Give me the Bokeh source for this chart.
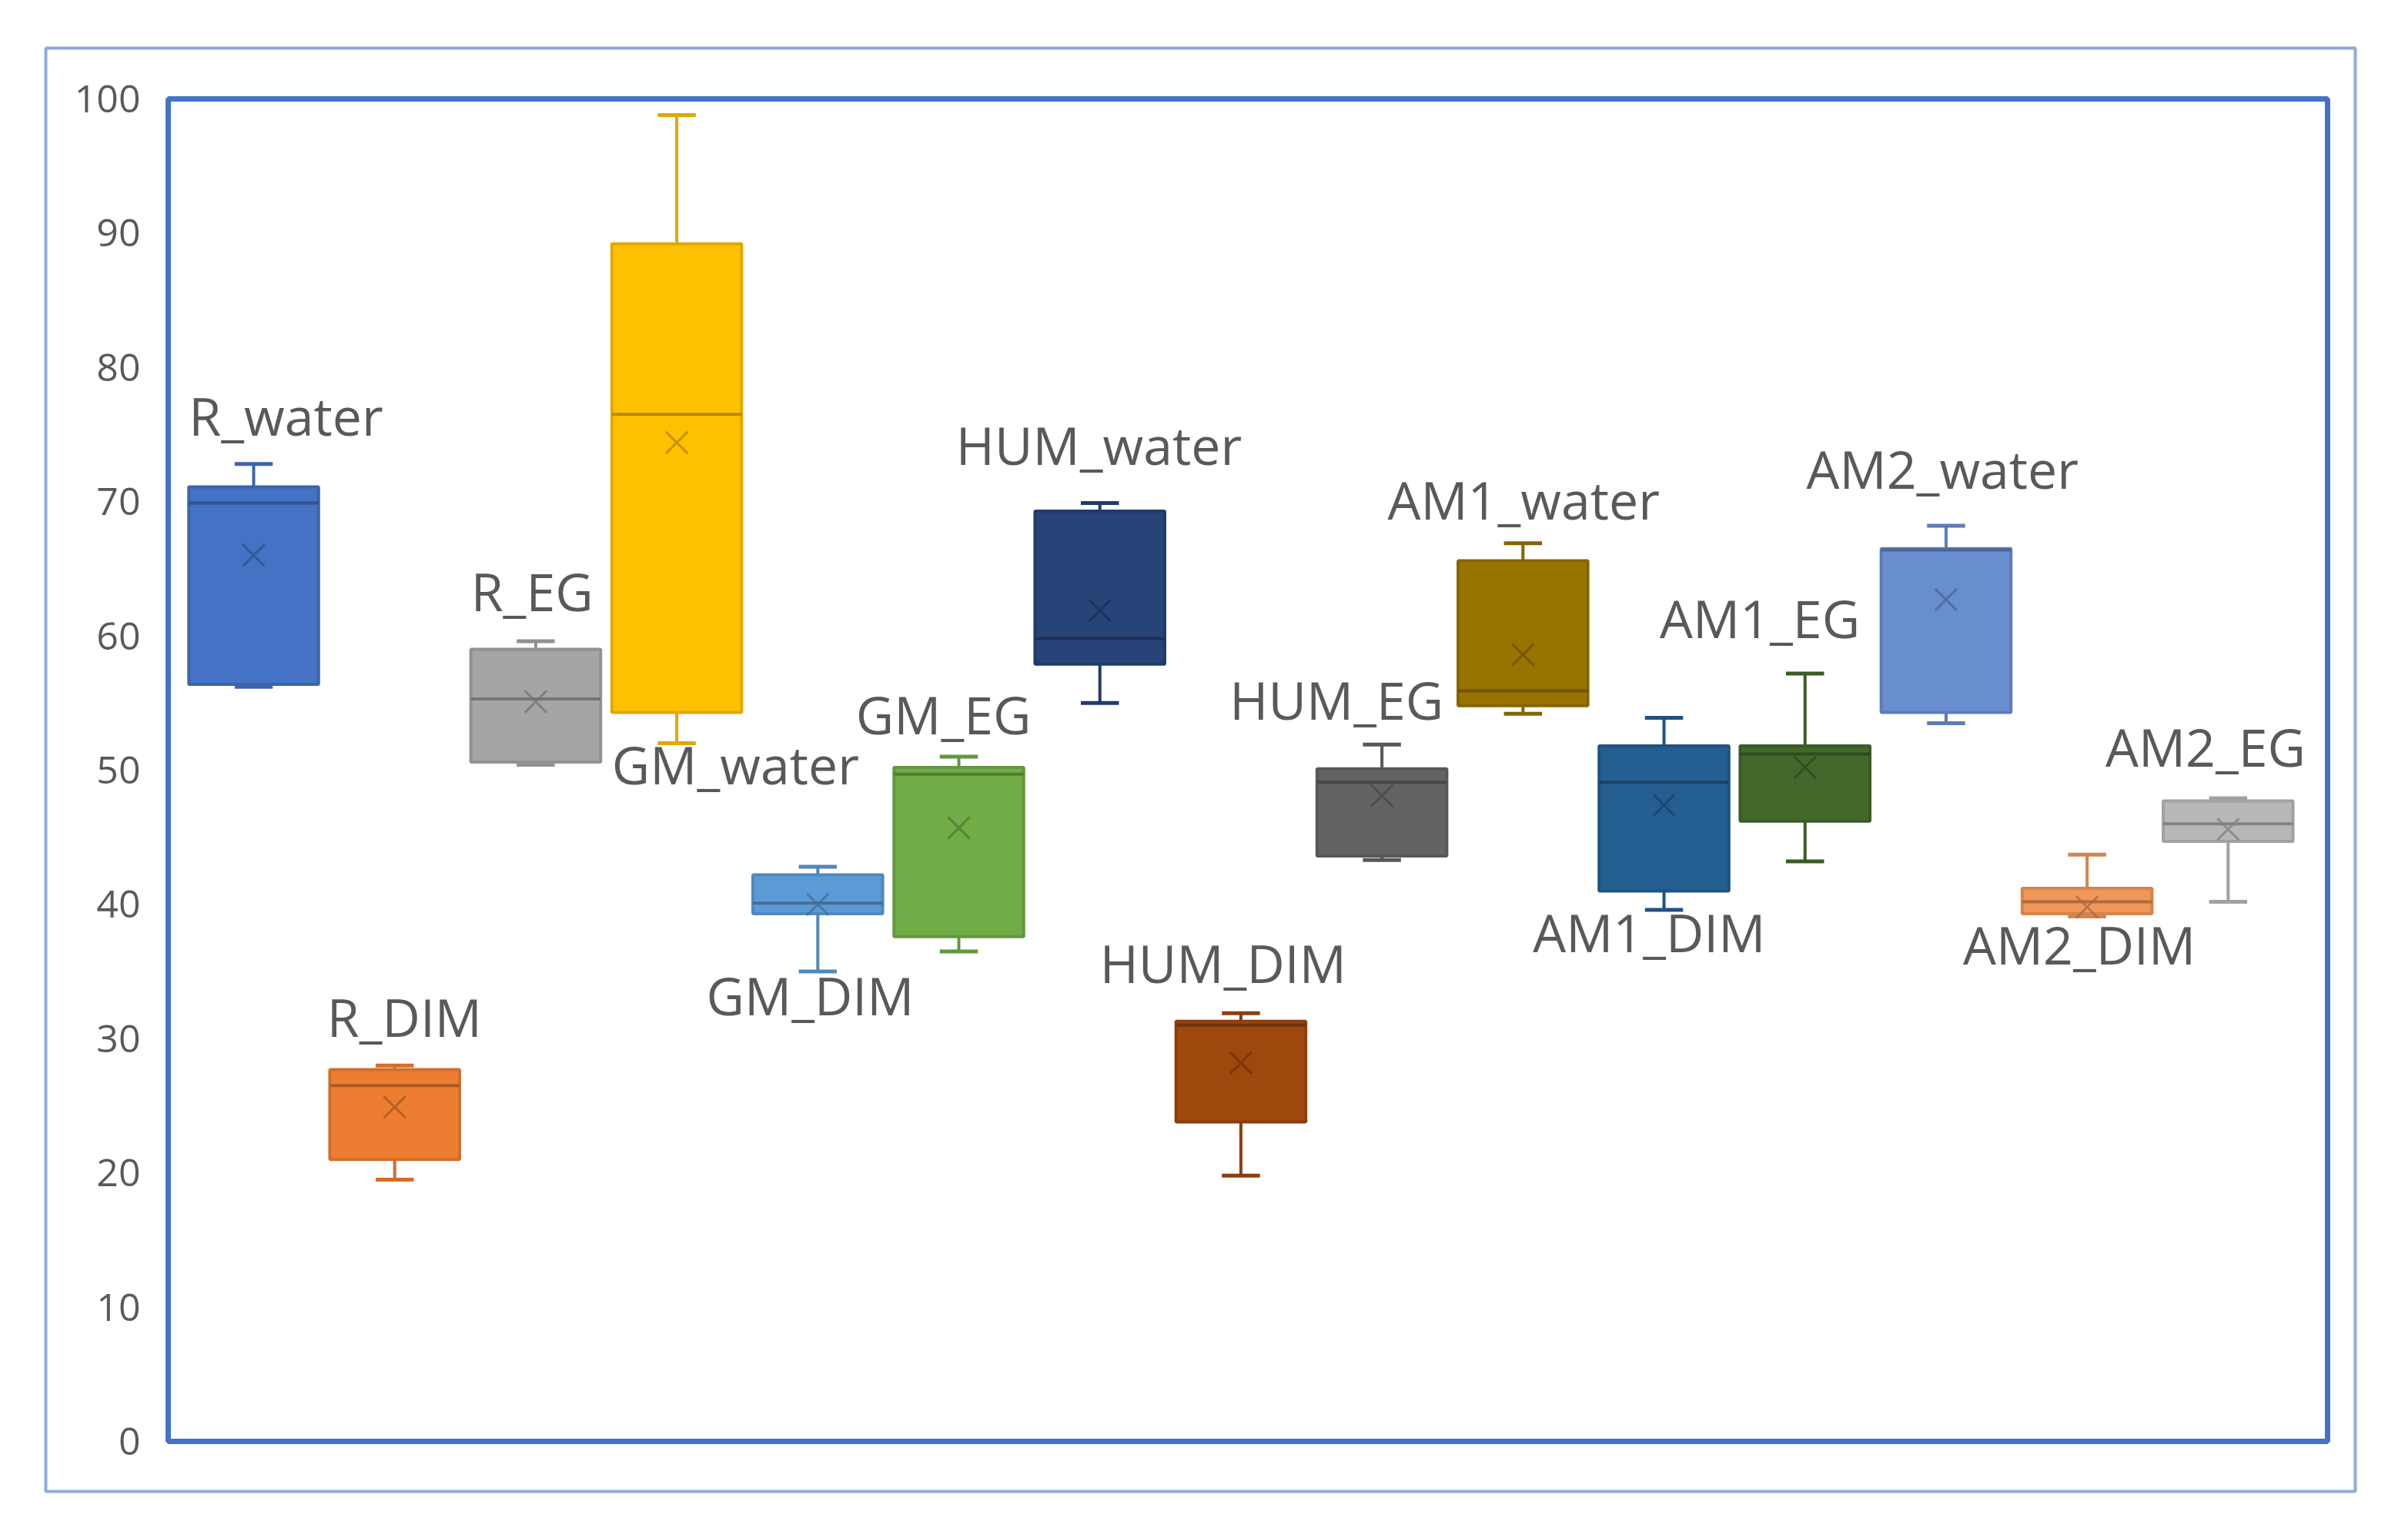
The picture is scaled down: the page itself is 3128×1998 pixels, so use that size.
from bokeh.plotting import figure
from bokeh.models import ColumnDataSource, FixedTicker, BoxAnnotation, Range1d
from bokeh.core.properties import value
from bokeh.embed import file_html
from bokeh.resources import INLINE

# ---------------- data ----------------
names = ["R_water", "R_DIM", "R_EG", "GM_water", "GM_DIM", "GM_EG",
         "HUM_water", "HUM_DIM", "HUM_EG", "AM1_water", "AM1_DIM", "AM1_EG",
         "AM2_water", "AM2_DIM", "AM2_EG"]
whisker_low = [56.2, 19.5, 50.4, 52.0, 35.0, 36.5, 55.0, 19.8, 43.3, 54.2, 39.6, 43.2, 53.5, 39.1, 40.2]
q1 = [56.4, 21.0, 50.6, 54.3, 39.3, 37.6, 57.9, 23.8, 43.6, 54.8, 41.0, 46.2, 54.3, 39.3, 44.7]
median = [69.9, 26.5, 55.3, 76.5, 40.1, 49.7, 59.8, 31.0, 49.1, 55.9, 49.1, 51.2, 66.4, 40.2, 46.0]
q3 = [71.1, 27.7, 59.0, 89.2, 42.2, 50.2, 69.3, 31.3, 50.1, 65.6, 51.8, 51.8, 66.5, 41.2, 47.7]
whisker_high = [72.8, 28.0, 59.6, 98.8, 42.8, 51.0, 69.9, 31.9, 51.9, 66.9, 53.9, 57.2, 68.2, 43.7, 47.9]
mean = [66.0, 24.9, 55.1, 74.4, 40.0, 45.7, 61.9, 28.2, 48.1, 58.6, 47.4, 50.2, 62.7, 39.8, 45.6]
y_ticks = [0, 10, 20, 30, 40, 50, 60, 70, 80, 90, 100]

# label placement (left edge x in category units, cap-centre y in data units)
label_x = [0.54, 1.52, 2.54, 3.54, 4.21, 5.27, 5.98, 7.00, 7.92, 9.04, 10.07, 10.97, 12.01, 13.12, 14.13]
label_y = [76.0, 31.2, 62.9, 50.0, 32.8, 53.7, 73.8, 35.2, 54.8, 69.7, 37.5, 60.9, 72.0, 36.6, 51.3]

colors = ["#4472C4", "#ED7D31", "#A5A5A5", "#FFC000", "#5B9BD5", "#70AD47",
          "#264478", "#9E480E", "#636363", "#997300", "#255E91", "#43682B",
          "#698ED0", "#F1975A", "#B7B7B7"]


def shade(h, f):
    h = h.lstrip("#")
    r, g, b = (int(h[i:i + 2], 16) for i in (0, 2, 4))
    return "#%02x%02x%02x" % (int(r * f), int(g * f), int(b * f))


BOX_W = 0.92
CAP_W = 0.27
xs = [i + 1 for i in range(len(names))]

src = ColumnDataSource(dict(
    x=xs, lo=whisker_low, q1=q1, med=median, q3=q3, hi=whisker_high, mean=mean,
    fill=colors,
    edge=[shade(c, 0.88) for c in colors],
    dark=[shade(c, 0.72) for c in colors],
    bl=[x - BOX_W / 2 for x in xs], br=[x + BOX_W / 2 for x in xs],
    cl=[x - CAP_W / 2 for x in xs], cr=[x + CAP_W / 2 for x in xs],
))
lab = ColumnDataSource(dict(x=label_x, y=label_y, text=names))

# ---------------- layout (canvas pixels) ----------------
W, H = 3100, 1975
OL, OR, OT, OB = 59, 3059, 62, 1937          # outer chart-area border (= Bokeh frame)
FL, FR, FT, FB = 218, 3023, 128, 1872        # inner plot-area border
X_IN_L, X_IN_R = 0.394, 15.705               # category x at inner plot-area edges
xppu = (FR - FL) / (X_IN_R - X_IN_L)
yppu = (FB - FT) / 100.0
x_start = X_IN_L - (FL - OL) / xppu
x_end = X_IN_R + (OR - FR) / xppu
y_start = 0 - (OB - FB) / yppu
y_end = 100 + (FT - OT) / yppu
TICK_LABEL_RIGHT = 182

p = figure(width=W, height=H, output_backend="svg", toolbar_location=None,
           x_range=Range1d(x_start, x_end), y_range=Range1d(y_start, y_end),
           x_axis_location=None, min_border_left=OL, min_border_right=W - OR,
           min_border_top=OT, min_border_bottom=H - OB)
p.background_fill_color = "white"
p.border_fill_color = "white"
p.grid.visible = False
p.outline_line_color = "#8FAADC"
p.outline_line_width = 4

ax = p.yaxis[0]
ax.ticker = FixedTicker(ticks=y_ticks)
ax.axis_line_color = None
ax.major_tick_line_color = None
ax.minor_tick_line_color = None
ax.major_tick_out = 0
ax.major_tick_in = 0
ax.major_label_standoff = -(TICK_LABEL_RIGHT - OL)
ax.major_label_text_font = "Open Sans"
ax.major_label_text_font_size = "50px"
ax.major_label_text_color = "#595959"

# inner plot-area border
p.add_layout(BoxAnnotation(left=X_IN_L, right=X_IN_R, bottom=0, top=100,
                           fill_color=None, fill_alpha=0,
                           line_color="#4472C4", line_alpha=1.0, line_width=7,
                           level="underlay"))

# whiskers and caps
p.segment(x0="x", y0="q3", x1="x", y1="hi", source=src, line_color="edge", line_width=4)
p.segment(x0="x", y0="q1", x1="x", y1="lo", source=src, line_color="edge", line_width=4)
p.segment(x0="cl", y0="hi", x1="cr", y1="hi", source=src, line_color="edge", line_width=5)
p.segment(x0="cl", y0="lo", x1="cr", y1="lo", source=src, line_color="edge", line_width=5)
# boxes
p.vbar(x="x", width=BOX_W, top="q3", bottom="q1", source=src,
       fill_color="fill", line_color="edge", line_width=4)
# median
p.segment(x0="bl", y0="med", x1="br", y1="med", source=src, line_color="dark", line_width=4)
# mean
p.scatter(x="x", y="mean", source=src, marker="x", size=40,
          line_color="dark", line_width=3, line_alpha=0.8)

# labels
p.text(x="x", y="y", text="text", source=lab, text_font=value("Open Sans"),
       text_font_size="68px", text_color="#595959", text_baseline="alphabetic",
       text_align="left", y_offset=-8)

open("out.html", "w").write(file_html(p, INLINE))
